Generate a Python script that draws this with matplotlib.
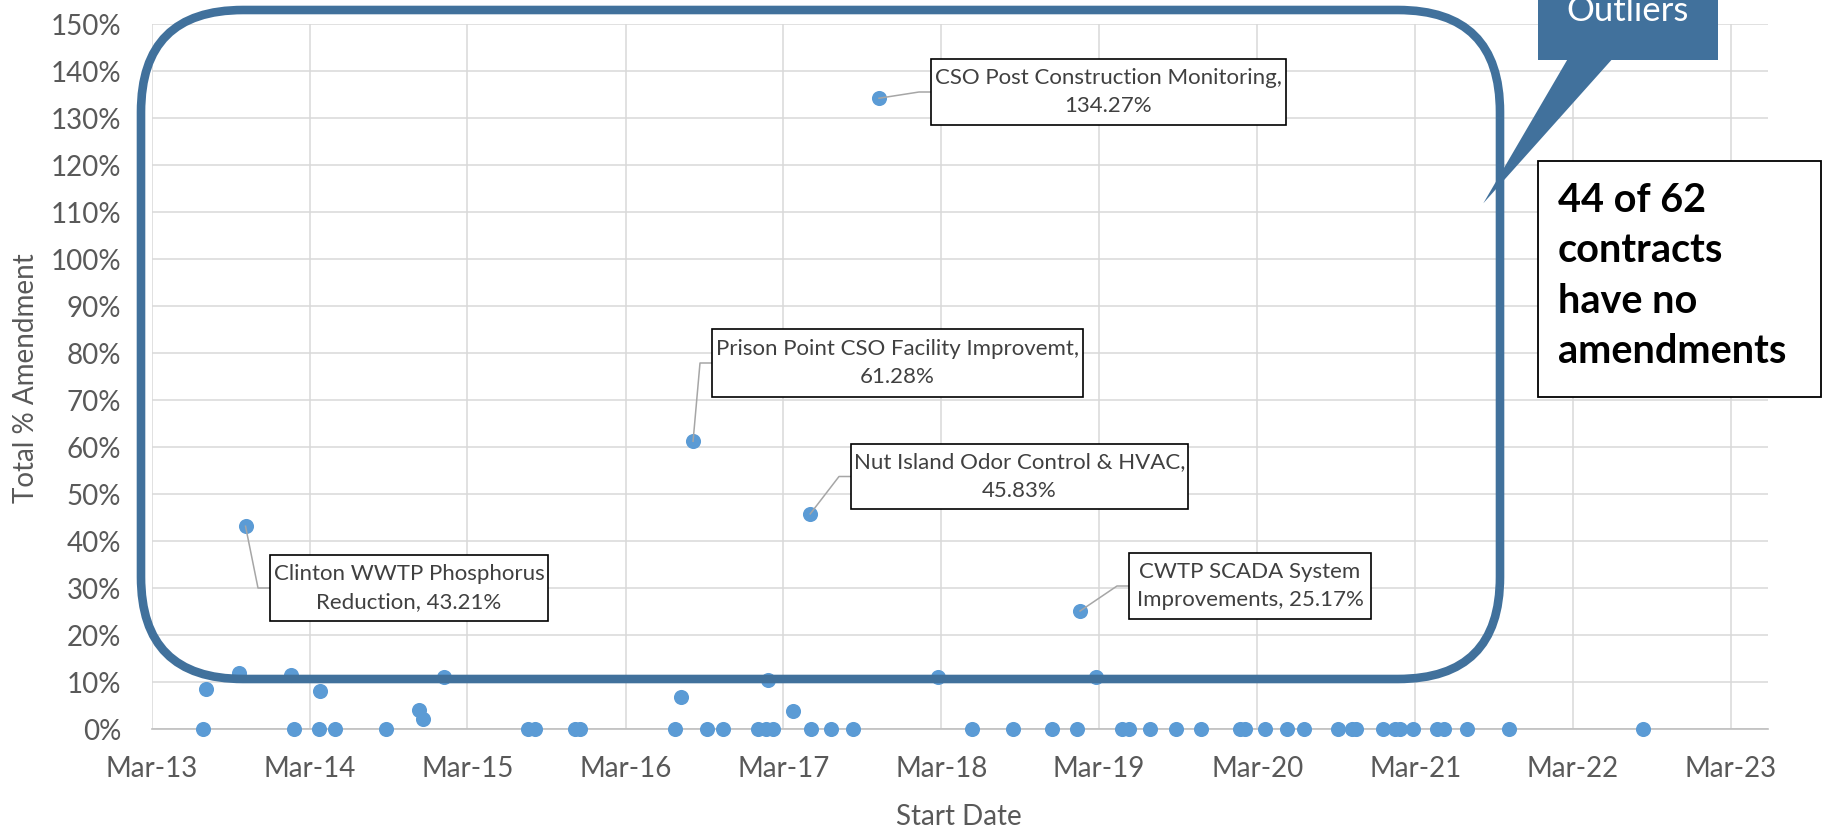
import matplotlib
matplotlib.use("Agg")
import matplotlib.pyplot as plt
import matplotlib.dates as mdates
from matplotlib.patches import FancyBboxPatch, Rectangle, Polygon
from matplotlib.ticker import PercentFormatter, MultipleLocator
import pandas as pd

plt.rcParams["font.family"] = ["Lato", "DejaVu Sans"]

W, H = 1823, 833

# ------------------------------------------------------------
# data: contract start date and total % amendment
# ------------------------------------------------------------
start_dates = [
    "2013-06-27", "2013-07-05", "2013-09-20", "2013-10-04", "2014-01-17",
    "2014-01-24", "2014-03-22", "2014-03-26", "2014-04-29", "2014-08-25",
    "2014-11-10", "2014-11-18", "2015-01-06", "2015-07-20", "2015-08-05",
    "2015-11-05", "2015-11-17", "2016-06-24", "2016-07-08", "2016-08-04",
    "2016-09-06", "2016-10-13", "2017-01-02", "2017-01-19", "2017-01-25",
    "2017-02-04", "2017-03-24", "2017-05-02", "2017-05-04", "2017-06-20",
    "2017-08-08", "2017-10-08", "2018-02-21", "2018-05-11", "2018-08-15",
    "2018-11-13", "2019-01-09", "2019-01-16", "2019-02-22", "2019-04-23",
    "2019-05-10", "2019-06-26", "2019-08-26", "2019-10-23", "2020-01-21",
    "2020-02-02", "2020-03-18", "2020-05-09", "2020-06-16", "2020-09-03",
    "2020-10-06", "2020-10-16", "2020-12-16", "2021-01-14", "2021-01-24",
    "2021-02-24", "2021-04-21", "2021-05-06", "2021-06-29", "2021-10-04",
    "2022-08-10",
]
pct_amendment = [
    0.0, 0.085, 0.119, 0.4321, 0.116,
    0.0, 0.0, 0.082, 0.0, 0.0,
    0.041, 0.021, 0.112, 0.0, 0.0,
    0.0, 0.0, 0.0, 0.068, 0.6128,
    0.0, 0.0, 0.0, 0.0, 0.105,
    0.0, 0.040, 0.4583, 0.0, 0.0,
    0.0, 1.3427, 0.112, 0.0, 0.0,
    0.0, 0.0, 0.2517, 0.112, 0.0,
    0.0, 0.0, 0.0, 0.0, 0.0,
    0.0, 0.0, 0.0, 0.0, 0.0,
    0.0, 0.0, 0.0, 0.0, 0.0,
    0.0, 0.0, 0.0, 0.0, 0.0,
    0.0,
]

label_dates = ["2013-10-04", "2016-08-04", "2017-05-02", "2017-10-08", "2019-01-16"]
label_texts = [
    "Clinton WWTP Phosphorus\nReduction, 43.21%",
    "Prison Point CSO Facility Improvemt,\n61.28%",
    "Nut Island Odor Control & HVAC,\n45.83%",
    "CSO Post Construction Monitoring,\n134.27%",
    "CWTP SCADA System\nImprovements, 25.17%",
]
# label boxes in figure pixels (left, top, right, bottom)
label_boxes = [
    (270, 555, 548, 621),
    (712, 329, 1083, 397),
    (851, 444, 1188, 509),
    (931, 59, 1286, 125),
    (1129, 553, 1371, 619),
]

dates = pd.to_datetime(start_dates)
x = mdates.date2num(dates)

fig = plt.figure(figsize=(W / 100, H / 100), dpi=100)
fig.patch.set_facecolor("white")

ax_left, ax_right, ax_top, ax_bottom = 151.7, 1768, 24.3, 729.3
ax = fig.add_axes([ax_left / W, 1 - ax_bottom / H,
                   (ax_right - ax_left) / W, (ax_bottom - ax_top) / H])

ax.scatter(x, pct_amendment, s=118, color="#5B9BD5", linewidths=0, zorder=3,
           clip_on=False)

ax.set_xlim(mdates.date2num(pd.Timestamp("2013-03-01")),
            mdates.date2num(pd.Timestamp("2023-05-26")))
ax.set_ylim(0, 1.5)
ax.xaxis.set_major_locator(mdates.MonthLocator(bymonth=3, bymonthday=1))
ax.xaxis.set_major_formatter(mdates.DateFormatter("%b-%y"))
ax.yaxis.set_major_locator(MultipleLocator(0.1))
ax.yaxis.set_major_formatter(PercentFormatter(1.0, decimals=0))

ax.grid(True, color="#d9d9d9", linewidth=1.1, zorder=0)
ax.set_axisbelow(True)
for s in ("top", "right", "left"):
    ax.spines[s].set_visible(False)
ax.spines["bottom"].set_color("#bfbfbf")
ax.spines["bottom"].set_linewidth(1.2)

ax.tick_params(axis="both", length=0, labelsize=20, labelcolor="#595959")
ax.tick_params(axis="x", pad=19)
ax.tick_params(axis="y", pad=22)

fig.text(959 / W, 1 - 817 / H, "Start Date", ha="center", va="center",
         fontsize=20, color="#595959")
fig.text(26 / W, 1 - 378 / H, "Total % Amendment", ha="center", va="center",
         rotation=90, fontsize=20, color="#595959")

# ------------------------------------------------------------
# overlay in pixel coordinates for labels and shapes
# ------------------------------------------------------------
ov = fig.add_axes([0, 0, 1, 1], zorder=5)
ov.set_xlim(0, W)
ov.set_ylim(H, 0)
ov.axis("off")
ov.patch.set_alpha(0)

lookup = dict(zip(start_dates, pct_amendment))
for d, txt, (l, t, r, b) in zip(label_dates, label_texts, label_boxes):
    px, py = ax.transData.transform((mdates.date2num(pd.Timestamp(d)), lookup[d]))
    py = H - py
    mid = (t + b) / 2
    ov.plot([px, l - 12, l], [py, mid, mid], color="#a6a6a6", lw=1.1, zorder=1)
    ov.add_patch(Rectangle((l, t), r - l, b - t, facecolor="white",
                           edgecolor="black", lw=1.2, zorder=2))
    ov.text((l + r) / 2, mid, txt, ha="center", va="center", fontsize=16,
            color="#404040", linespacing=1.5, zorder=3)

blue = "#41719C"
ov.add_patch(FancyBboxPatch((141, 10), 1500 - 141, 679 - 10,
                            boxstyle="round,pad=0,rounding_size=102",
                            facecolor="none", edgecolor=blue, lw=6.2, zorder=4))

# "Outliers" callout
ov.add_patch(Rectangle((1538, -40), 1718 - 1538, 100, facecolor=blue,
                       edgecolor="none", zorder=4))
ov.add_patch(Polygon([(1567.7, 59), (1612.3, 59), (1483.3, 203.3)],
                     closed=True, facecolor=blue, edgecolor="none", zorder=4))
ov.text(1628, 21, "Outliers", ha="center", va="baseline", fontsize=25,
        color="white", zorder=5)

# note box
ov.add_patch(Rectangle((1538, 161), 1821 - 1538, 397 - 161, facecolor="white",
                       edgecolor="black", lw=1.3, zorder=4))
ov.text(1558, 276, "44 of 62\ncontracts\nhave no\namendments", ha="left",
        va="center", fontsize=28.5, fontweight="bold", color="black",
        linespacing=1.45, zorder=5)

fig.savefig("out.png", dpi=100)
